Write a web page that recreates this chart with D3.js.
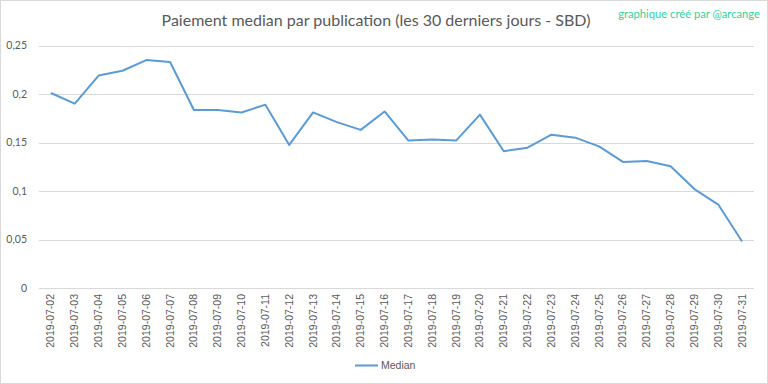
<!DOCTYPE html>
<html><head><meta charset="utf-8">
<script src="https://cdn.jsdelivr.net/npm/d3@7"></script>
<style>body{margin:0;background:#fff}svg{display:block}</style>
</head><body>
<svg id="c" width="768" height="384"></svg>
<script>
const dates = ["2019-07-02","2019-07-03","2019-07-04","2019-07-05","2019-07-06","2019-07-07","2019-07-08","2019-07-09","2019-07-10","2019-07-11","2019-07-12","2019-07-13","2019-07-14","2019-07-15","2019-07-16","2019-07-17","2019-07-18","2019-07-19","2019-07-20","2019-07-21","2019-07-22","2019-07-23","2019-07-24","2019-07-25","2019-07-26","2019-07-27","2019-07-28","2019-07-29","2019-07-30","2019-07-31"];
const median = [0.201,0.190,0.219,0.224,0.235,0.233,0.1835,0.1835,0.181,0.189,0.1475,0.181,0.171,0.163,0.182,0.152,0.153,0.152,0.1787,0.141,0.1447,0.158,0.155,0.146,0.130,0.131,0.1255,0.102,0.086,0.048];
const yTicks = [0,0.05,0.1,0.15,0.2,0.25];
const seriesName = "Median";
const title = "Paiement median par publication (les 30 derniers jours - SBD)";
const credit = "graphique créé par @arcange";

const svg = d3.select("#c");
const font = "Lato, 'Open Sans', sans-serif";
svg.append("rect").attr("x",0.5).attr("y",0.5).attr("width",767).attr("height",383)
  .attr("fill","#fff").attr("stroke","#d9d9d9");

const x = d3.scaleBand().domain(dates).range([39,754]);
const y = d3.scaleLinear().domain([0,0.25]).range([288,45.5]);

const g = svg.append("g");
g.selectAll("line.grid").data(yTicks).join("line").attr("class","grid")
  .attr("x1",39).attr("x2",754).attr("y1",d=>Math.round(y(d))+0.5).attr("y2",d=>Math.round(y(d))+0.5)
  .attr("stroke","#d9d9d9").attr("stroke-width",1);

const fmt = d => d===0 ? "0" : String(d).replace(".",",");
g.selectAll("text.yl").data(yTicks).join("text").attr("class","yl")
  .attr("x",27).attr("y",d=>y(d)).attr("dy","0.35em").attr("text-anchor","end")
  .attr("font-family",font).attr("font-size",10.5).attr("fill","#595959").text(fmt);

g.selectAll("text.xl").data(dates).join("text").attr("class","xl")
  .attr("transform",d=>`translate(${x(d)+x.bandwidth()/2+3.5},294) rotate(-90)`)
  .attr("text-anchor","end").attr("font-family","'Liberation Sans', Arial, sans-serif")
  .attr("font-size",10.5).attr("fill","#595959").text(d=>d);

const line = d3.line().x((d,i)=>x(dates[i])+x.bandwidth()/2).y(d=>y(d));
g.append("path").datum(median).attr("d",line).attr("fill","none")
  .attr("stroke","#5B9BD5").attr("stroke-width",2).attr("stroke-linejoin","round");

svg.append("text").attr("x",376).attr("y",26).attr("text-anchor","middle")
  .attr("font-family",font).attr("font-size",16).attr("fill","#595959").text(title);
svg.append("text").attr("x",760).attr("y",18).attr("text-anchor","end")
  .attr("font-family",font).attr("font-size",11.2).attr("fill","#2ed39c").text(credit);

svg.append("line").attr("x1",355).attr("x2",378).attr("y1",365.5).attr("y2",365.5)
  .attr("stroke","#5B9BD5").attr("stroke-width",2);
svg.append("text").attr("x",381).attr("y",365).attr("dy","0.35em")
  .attr("font-family","'Liberation Sans', Arial, sans-serif").attr("font-size",10.5).attr("fill","#595959").text(seriesName);
</script>
</body></html>
